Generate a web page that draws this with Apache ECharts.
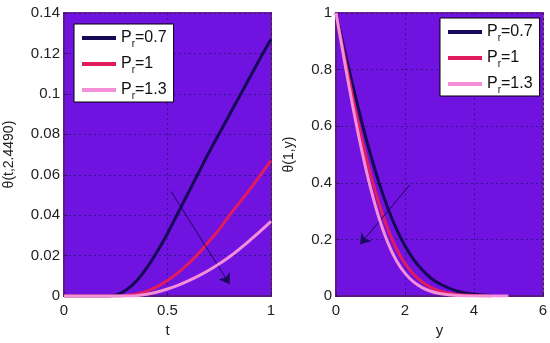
<!DOCTYPE html>
<html>
<head>
<meta charset="utf-8">
<script src="https://cdn.jsdelivr.net/npm/echarts@6/dist/echarts.min.js"></script>
<style>
html,body{margin:0;padding:0;background:#fff;}
#c{width:550px;height:343px;}
</style>
</head>
<body>
<div id="c"></div>
<script>
// ---------- data ----------
const seriesNames = ['Pr=0.7', 'Pr=1', 'Pr=1.3'];
const legendLabels = ['0.7', '1', '1.3'];

// Left panel: theta(t, 2.4490) vs t
const tValues = [0, 0.05, 0.1, 0.15, 0.2, 0.25, 0.3, 0.35, 0.4, 0.45, 0.5, 0.55, 0.6, 0.65, 0.7, 0.75, 0.8, 0.85, 0.9, 0.95, 1];
const leftPr07 = [0, 0, 0, 0, 0, 0.0005, 0.003, 0.0075, 0.014, 0.022, 0.031, 0.041, 0.051, 0.061, 0.071, 0.0804, 0.0898, 0.0992, 0.1086, 0.118, 0.127];
const leftPr1  = [0, 0, 0, 0, 0, 0, 0.0003, 0.001, 0.0025, 0.0047, 0.0077, 0.0115, 0.016, 0.021, 0.027, 0.033, 0.040, 0.0465, 0.053, 0.060, 0.067];
const leftPr13 = [0, 0, 0, 0, 0, 0, 0, 0.0002, 0.0009, 0.002, 0.0035, 0.0053, 0.0075, 0.010, 0.0128, 0.016, 0.0195, 0.0235, 0.0278, 0.0323, 0.037];

// Right panel: theta(1, y) vs y
const yValues = [0, 0.25, 0.5, 0.75, 1, 1.25, 1.5, 1.75, 2, 2.25, 2.5, 2.75, 3, 3.5, 4, 4.5, 5];
const rightPr07 = [1, 0.866, 0.737, 0.614, 0.501, 0.400, 0.312, 0.238, 0.178, 0.130, 0.093, 0.064, 0.044, 0.018, 0.007, 0.002, null];
const rightPr1  = [1, 0.844, 0.694, 0.555, 0.432, 0.326, 0.238, 0.168, 0.116, 0.077, 0.050, 0.031, 0.018, 0.006, 0.002, 0.0004, null];
const rightPr13 = [1, 0.827, 0.662, 0.513, 0.383, 0.275, 0.190, 0.126, 0.081, 0.050, 0.030, 0.017, 0.009, 0.002, 0.0005, 0, 0];

// Arrow annotations (data coordinates)
const leftArrow = [[0.517, 0.0518], [0.80, 0.0059]];
const rightArrow = [[2.14, 0.393], [0.70, 0.183]];

// Axis ticks
const leftX = {min: 0, max: 1, interval: 0.5};
const leftY = {min: 0, max: 0.14, interval: 0.02};
const rightX = {min: 0, max: 6, interval: 2};
const rightY = {min: 0, max: 1, interval: 0.2};

// ---------- styles ----------
const colors = ['#140a55', '#e21b5e', '#f48fd8'];
const FONT = 'Liberation Sans, Arial, sans-serif';
const plotBg = '#7012e0';
const gridLine = '#34168a';

function pairs(xs, ys) { return xs.map((x, i) => [x, ys[i]]); }

function xAxisCfg(gi, r, name) {
  return {
    gridIndex: gi, type: 'value', min: r.min, max: r.max, interval: r.interval,
    name: name, nameLocation: 'middle', nameGap: 24,
    nameTextStyle: {fontFamily: FONT, fontSize: 15, color: '#222'},
    axisLine: {show: true, lineStyle: {color: '#5a1a82', width: 2}},
    axisTick: {show: true, inside: true, length: 4, lineStyle: {color: '#3a1070'}},
    axisLabel: {fontFamily: FONT, fontSize: 15, color: '#222', margin: 7},
    splitLine: {show: true, lineStyle: {color: gridLine, type: [2, 3], width: 1}}
  };
}
function yAxisCfg(gi, r, name, gap) {
  return {
    gridIndex: gi, type: 'value', min: r.min, max: r.max, interval: r.interval,
    name: name, nameLocation: 'middle', nameGap: gap,
    nameTextStyle: {fontFamily: FONT, fontSize: 14, color: '#222'},
    axisLine: {show: true, lineStyle: {color: '#5a1a82', width: 2}},
    axisTick: {show: true, inside: true, length: 4, lineStyle: {color: '#3a1070'}},
    axisLabel: {fontFamily: FONT, fontSize: 15, color: '#222', margin: 4},
    splitLine: {show: true, lineStyle: {color: gridLine, type: [2, 3], width: 1}}
  };
}
function lineSeries(i, xi, yi, data, arrow) {
  const s = {
    name: seriesNames[i], type: 'line', xAxisIndex: xi, yAxisIndex: yi,
    data: data, smooth: 0.4, showSymbol: false, symbol: 'none',
    lineStyle: {color: colors[i], width: 3}, itemStyle: {color: colors[i]},
    z: 3 + i
  };
  if (arrow) {
    s.markLine = {
      silent: true, symbol: ['none', 'arrow'], symbolSize: 10,
      label: {show: false},
      lineStyle: {color: '#1a0a5a', width: 1, type: 'solid'},
      data: [[{coord: arrow[0]}, {coord: arrow[1]}]]
    };
  }
  return s;
}
function legendCfg(left, top) {
  return {
    orient: 'vertical', left: left, top: top,
    data: seriesNames,
    backgroundColor: '#fff', borderColor: '#000', borderWidth: 1,
    padding: [3, 7, 1, 8], itemGap: 4, itemWidth: 34, itemHeight: 4,
    icon: 'rect',
    formatter: function (n) {
      const v = legendLabels[seriesNames.indexOf(n)];
      return '{p|P}{s|r}{p|=' + v + '}';
    },
    textStyle: {
      fontFamily: FONT, color: '#111',
      rich: {
        p: {fontFamily: FONT, fontSize: 16, color: '#111', lineHeight: 23},
        s: {fontFamily: FONT, fontSize: 10, color: '#111', padding: [12, 0, 0, 0], lineHeight: 23}
      }
    }
  };
}

const chart = echarts.init(document.getElementById('c'));
chart.setOption({
  animation: false,
  backgroundColor: '#fff',
  grid: [
    {left: 64, right: 279, top: 13, bottom: 46, show: true, backgroundColor: plotBg, borderColor: '#6a1d9c', borderWidth: 2},
    {left: 336, right: 7, top: 13, bottom: 46, show: true, backgroundColor: plotBg, borderColor: '#6a1d9c', borderWidth: 2}
  ],
  xAxis: [xAxisCfg(0, leftX, 't'), xAxisCfg(1, rightX, 'y')],
  yAxis: [yAxisCfg(0, leftY, 'θ(t,2.4490)', 48), yAxisCfg(1, rightY, 'θ(1,y)', 40)],
  legend: [legendCfg(74, 24), legendCfg(440, 18)],
  series: [
    lineSeries(0, 0, 0, pairs(tValues, leftPr07), leftArrow),
    lineSeries(1, 0, 0, pairs(tValues, leftPr1)),
    lineSeries(2, 0, 0, pairs(tValues, leftPr13)),
    lineSeries(0, 1, 1, pairs(yValues, rightPr07), rightArrow),
    lineSeries(1, 1, 1, pairs(yValues, rightPr1)),
    lineSeries(2, 1, 1, pairs(yValues, rightPr13))
  ]
});
</script>
</body>
</html>
